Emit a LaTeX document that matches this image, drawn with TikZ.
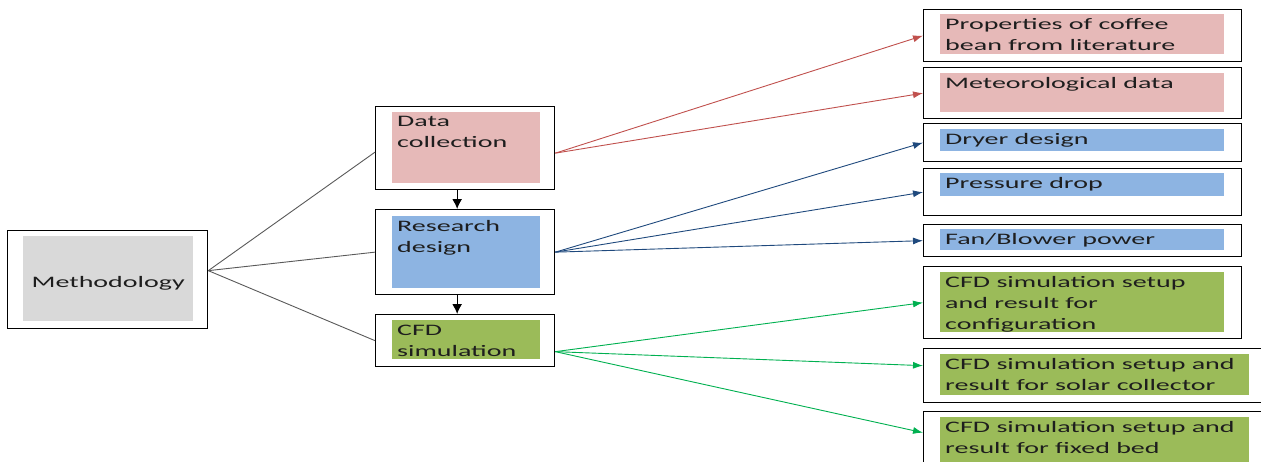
\documentclass[tikz,border=0pt]{standalone}
\usepackage{fontspec}
\setmainfont{Carlito}[FakeStretch=1.75]
\usetikzlibrary{arrows.meta}

\definecolor{redfill}{HTML}{E6B9B8}
\definecolor{bluefill}{HTML}{8DB4E2}
\definecolor{greenfill}{HTML}{9BBB59}
\definecolor{greyfill}{HTML}{D9D9D9}
\definecolor{redline}{HTML}{C0504D}
\definecolor{blueline}{HTML}{1F497D}
\definecolor{greenline}{HTML}{00B050}
\definecolor{textc}{HTML}{1E1E1E}

\begin{document}
\begin{tikzpicture}[x=1pt, y=-1pt,
  outer/.style={draw, line width=1.3pt, anchor=north west, inner sep=0pt},
  fillbox/.style={anchor=north west, inner sep=0pt},
  txt/.style={anchor=north west, align=left, inner xsep=5pt, inner ysep=4.5pt,
    text=textc, font=\fontsize{16}{21}\selectfont},
  link/.style={draw=black!65, line width=0.9pt},
  arr/.style={-{Latex[length=10pt,width=7pt]}, line width=0.9pt},
  downarr/.style={-{Latex[length=10pt,width=10pt]}, line width=1.3pt}]
  \useasboundingbox (0,0) rectangle (1261,461);
  \clip (0,0) rectangle (1261,461);

  % Methodology
  \node[outer, minimum width=200, minimum height=98] (meth) at (7,230) {};
  \node[fillbox, fill=greyfill, minimum width=170, minimum height=85] (methfill) at (23,236) {};
  \node[text=textc, font=\fontsize{16}{21}\selectfont] (metht) at ([yshift=-5pt]methfill.center) {Methodology};

  % middle column
  \node[outer, minimum width=179, minimum height=83] (dc) at (375,106) {};
  \node[fillbox, fill=redfill, minimum width=148, minimum height=71] (dcfill) at (392,112) {};
  \node[txt] (dct) at (dcfill.north west) {Data\\collection};

  \node[outer, minimum width=179, minimum height=85] (rd) at (375,209) {};
  \node[fillbox, fill=bluefill, minimum width=148, minimum height=72] (rdfill) at (392,216) {};
  \node[txt] (rdt) at (rdfill.north west) {Research\\design};

  \node[outer, minimum width=179, minimum height=52] (cfd) at (375,314) {};
  \node[fillbox, fill=greenfill, minimum width=148, minimum height=39] (cfdfill) at (392,320) {};
  \node[txt] (cfdt) at (cfdfill.north west) {CFD\\simulation};

  % right column
  \node[outer, minimum width=318, minimum height=52] (prop) at (923,9) {};
  \node[fillbox, fill=redfill, minimum width=284, minimum height=40] (propfill) at (940,14) {};
  \node[txt] (propt) at (propfill.north west) {Properties of coffee\\bean from literature};

  \node[outer, minimum width=318, minimum height=51] (met) at (923,67) {};
  \node[fillbox, fill=redfill, minimum width=284, minimum height=39] (metfill) at (940,73) {};
  \node[txt] (mett) at (metfill.north west) {Meteorological data};

  \node[outer, minimum width=318, minimum height=38] (dry) at (923,123) {};
  \node[fillbox, fill=bluefill, minimum width=284, minimum height=22] (dryfill) at (940,129) {};
  \node[txt] (dryt) at (dryfill.north west) {Dryer design};

  \node[outer, minimum width=318, minimum height=47] (pd) at (923,168) {};
  \node[fillbox, fill=bluefill, minimum width=284, minimum height=23] (pdfill) at (940,173) {};
  \node[txt] (pdt) at (pdfill.north west) {Pressure drop};

  \node[outer, minimum width=318, minimum height=32] (fan) at (923,224) {};
  \node[fillbox, fill=bluefill, minimum width=284, minimum height=21] (fanfill) at (940,229) {};
  \node[txt] (fant) at (fanfill.north west) {Fan/Blower power};

  \node[outer, minimum width=318, minimum height=72] (conf) at (923,266) {};
  \node[fillbox, fill=greenfill, minimum width=284, minimum height=60] (conffill) at (940,272) {};
  \node[txt] (conft) at (conffill.north west) {CFD simulation setup\\and result for\\configuration};

  \node[outer, minimum width=345, minimum height=54] (sc) at (923,348) {};
  \node[fillbox, fill=greenfill, minimum width=309, minimum height=41] (scfill) at (940,354) {};
  \node[txt] (sct) at (scfill.north west) {CFD simulation setup and\\result for solar collector};

  \node[outer, minimum width=345, minimum height=60] (fb) at (923,411) {};
  \node[fillbox, fill=greenfill, minimum width=309, minimum height=50] (fbfill) at (940,417) {};
  \node[txt] (fbt) at (fbfill.north west) {CFD simulation setup and\\result for fixed bed};

  % connectors
  \draw[link] ([yshift=9pt]meth.east) -- ([yshift=-4pt]dc.west);
  \draw[link] ([yshift=9pt]meth.east) -- (rd.west);
  \draw[link] ([yshift=9pt]meth.east) -- (cfd.west);

  \draw[downarr] ([xshift=-8pt]dc.south) -- ([xshift=-8pt]rd.north);
  \draw[downarr] ([xshift=-8pt]rd.south) -- ([xshift=-8pt]cfd.north);

  \draw[arr, redline] ([yshift=-5pt]dc.east) -- (prop.west);
  \draw[arr, redline] ([yshift=-5pt]dc.east) -- (met.west);

  \draw[arr, blueline] (rd.east) -- (dry.west);
  \draw[arr, blueline] (rd.east) -- (pd.west);
  \draw[arr, blueline] (rd.east) -- (fan.west);

  \draw[arr, greenline] ([yshift=-11pt]cfd.east) -- (conf.west);
  \draw[arr, greenline] ([yshift=-11pt]cfd.east) -- ([yshift=10pt]sc.west);
  \draw[arr, greenline] ([yshift=-11pt]cfd.east) -- ([yshift=9pt]fb.west);
\end{tikzpicture}
\end{document}
